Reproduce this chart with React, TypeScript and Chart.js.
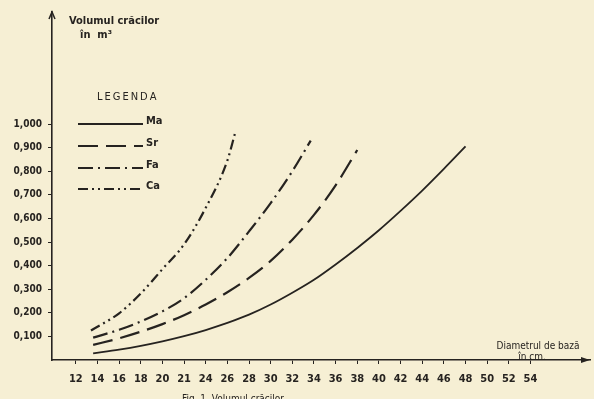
import React, { useEffect, useRef } from "react";
import { Chart, registerables } from "chart.js";

Chart.register(...registerables);

// ---- axis ticks ----
const xTickValues = [12, 14, 16, 18, 20, 22, 24, 26, 28, 30, 32, 34, 36, 38, 40, 42, 44, 46, 48, 50, 52, 54];
const xTickLabels = ["12", "14", "16", "18", "20", "21", "24", "26", "28", "30", "32", "34", "36", "38", "40", "42", "44", "46", "48", "50", "52", "54"];
const yTickValues = [0.1, 0.2, 0.3, 0.4, 0.5, 0.6, 0.7, 0.8, 0.9, 1.0];
const yTickLabels = ["0,100", "0,200", "0,300", "0,400", "0,500", "0,600", "0,700", "0,800", "0,900", "1,000"];

// ---- series (diameter in cm, volume in m3) ----
const maDiam = [13.6, 16, 18, 20, 22, 24, 26, 28, 30, 32, 34, 36, 38, 40, 42, 44, 46, 48];
const maVol = [0.028, 0.044, 0.06, 0.079, 0.101, 0.127, 0.157, 0.192, 0.235, 0.285, 0.34, 0.405, 0.475, 0.55, 0.632, 0.718, 0.81, 0.905];

const srDiam = [13.6, 16, 18, 20, 22, 24, 26, 28, 30, 32, 34, 36, 38];
const srVol = [0.064, 0.092, 0.12, 0.152, 0.19, 0.235, 0.287, 0.348, 0.42, 0.51, 0.615, 0.74, 0.89];

const faDiam = [13.6, 16, 18, 20, 22, 24, 26, 28, 30, 32, 33.7];
const faVol = [0.095, 0.128, 0.163, 0.206, 0.262, 0.34, 0.432, 0.545, 0.665, 0.8, 0.93];

const caDiam = [13.4, 16, 18, 20, 22, 24, 26, 26.7];
const caVol = [0.125, 0.198, 0.282, 0.385, 0.49, 0.645, 0.845, 0.96];

const seriesNames = ["Ma", "Sr", "Fa", "Ca"];

const INK = "#262320";
const PAPER = "#f6efd4";
const FONT = "'DejaVu Sans Condensed', 'DejaVu Sans', sans-serif";

const dashes: number[][] = [[], [20, 8], [15, 5, 2, 5], [10, 4, 2, 4, 2, 4]];
const widths = [1.8, 2.2, 2.2, 2.2];

function toPoints(xs: number[], ys: number[]) {
  return xs.map((x, i) => ({ x, y: ys[i] }));
}

const paperPlugin = {
  id: "paper",
  beforeDraw(chart: any) {
    const { ctx, width, height } = chart;
    ctx.save();
    ctx.fillStyle = PAPER;
    ctx.fillRect(0, 0, width, height);
    ctx.restore();
  },
};

const decorPlugin = {
  id: "decor",
  afterDraw(chart: any) {
    const { ctx, chartArea } = chart;
    const { left, right, top, bottom } = chartArea;
    ctx.save();
    ctx.fillStyle = INK;
    ctx.strokeStyle = INK;

    // arrow heads
    ctx.lineWidth = 1.5;
    ctx.beginPath();
    ctx.moveTo(left - 3, top + 7);
    ctx.lineTo(left, top);
    ctx.lineTo(left + 3, top + 7);
    ctx.stroke();
    ctx.beginPath();
    ctx.moveTo(right - 9, bottom - 3);
    ctx.lineTo(right, bottom);
    ctx.lineTo(right - 9, bottom + 3);
    ctx.closePath();
    ctx.fill();

    // y title
    ctx.textBaseline = "middle";
    ctx.textAlign = "left";
    ctx.font = `bold 11px ${FONT}`;
    ctx.fillText("Volumul crăcilor", 69, 21);
    ctx.fillText("în  m³", 80, 35);

    // x title
    ctx.font = `10px ${FONT}`;
    ctx.textAlign = "center";
    ctx.fillText("Diametrul de bază", 538, 346);
    ctx.fillText("în cm.", 532, 357);

    // legend
    ctx.textAlign = "left";
    ctx.font = `11px ${FONT}`;
    const leg = "LEGENDA";
    let lx = 97;
    for (const ch of leg) {
      ctx.fillText(ch, lx, 97);
      lx += ctx.measureText(ch).width + 2;
    }
    const rowsY = [124, 146, 168, 189];
    chart.data.datasets.forEach((ds: any, i: number) => {
      const y = rowsY[i];
      ctx.beginPath();
      ctx.setLineDash(ds.borderDash || []);
      ctx.lineWidth = ds.borderWidth;
      ctx.moveTo(78, y);
      ctx.lineTo(143, y);
      ctx.stroke();
      ctx.setLineDash([]);
      ctx.font = `bold 11px ${FONT}`;
      ctx.fillText(ds.label, 146, y - 3);
    });

    // caption (cut by the page edge)
    ctx.font = `10px ${FONT}`;
    ctx.textAlign = "left";
    ctx.textBaseline = "top";
    ctx.fillText("Fig. 1. Volumul crăcilor", 182, 394);
    ctx.restore();
  },
};

export default function App() {
  const ref = useRef<HTMLCanvasElement | null>(null);

  useEffect(() => {
    if (!ref.current) return;
    const series = [
      toPoints(maDiam, maVol),
      toPoints(srDiam, srVol),
      toPoints(faDiam, faVol),
      toPoints(caDiam, caVol),
    ];
    const chart = new Chart(ref.current, {
      type: "line",
      data: {
        datasets: series.map((pts, i) => ({
          label: seriesNames[i],
          data: pts,
          borderColor: INK,
          borderWidth: widths[i],
          borderDash: dashes[i],
          pointRadius: 0,
          cubicInterpolationMode: "monotone" as const,
          fill: false,
        })),
      },
      options: {
        animation: false,
        responsive: false,
        maintainAspectRatio: false,
        layout: { padding: { top: 12, right: 4, left: 0, bottom: 0 } },
        plugins: { legend: { display: false }, tooltip: { enabled: false } },
        scales: {
          x: {
            type: "linear",
            min: 9.8,
            max: 59.5,
            afterBuildTicks: (s: any) => {
              s.ticks = xTickValues.map((v) => ({ value: v }));
            },
            afterFit: (s: any) => {
              s.height = 39;
            },
            ticks: {
              autoSkip: false,
              maxRotation: 0,
              padding: 9,
              color: INK,
              font: { family: FONT, size: 11, weight: "bold" },
              callback: (_v: any, i: number) => xTickLabels[i],
            },
            grid: { display: true, drawOnChartArea: false, drawTicks: true, tickLength: 4, color: INK, lineWidth: 1 },
            border: { display: true, color: INK, width: 1.6 },
          },
          y: {
            type: "linear",
            min: 0,
            max: 1.475,
            afterBuildTicks: (s: any) => {
              s.ticks = yTickValues.map((v) => ({ value: v }));
            },
            afterFit: (s: any) => {
              s.width = 52;
            },
            ticks: {
              padding: 6,
              color: INK,
              font: { family: FONT, size: 10, weight: "bold" },
              callback: (_v: any, i: number) => yTickLabels[i],
            },
            grid: { display: true, drawOnChartArea: false, drawTicks: true, tickLength: 4, color: INK, lineWidth: 1 },
            border: { display: true, color: INK, width: 1.6 },
          },
        },
      },
      plugins: [paperPlugin, decorPlugin],
    });
    return () => chart.destroy();
  }, []);

  return (
    <div style={{ position: "fixed", left: 0, top: 0, width: 594, height: 399, background: PAPER }}>
      <canvas ref={ref} width={594} height={399} style={{ width: 594, height: 399, display: "block" }} />
    </div>
  );
}
